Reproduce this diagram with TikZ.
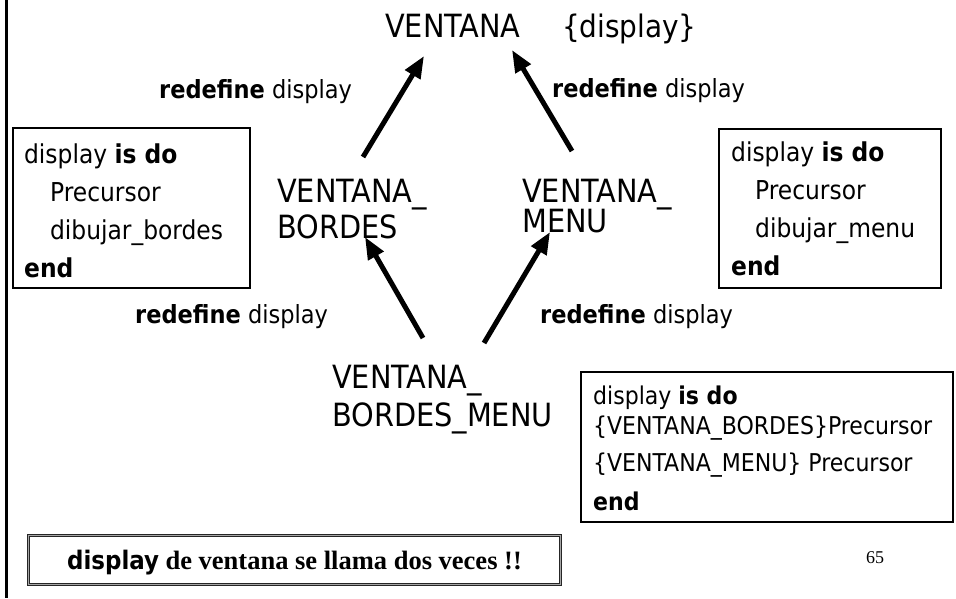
\documentclass[tikz,border=0pt]{standalone}
\usepackage{fontspec}
\setmainfont{DejaVu Sans Condensed}
\newfontfamily\romfont{Liberation Serif}
\usetikzlibrary{arrows.meta}

\tikzset{
  clsname/.style ={font=\fontsize{32}{36}\selectfont, align=left,
                   inner sep=0pt, anchor=base west},
  redef/.style   ={font=\fontsize{25}{30}\selectfont, inner sep=0pt,
                   anchor=base west},
  codebox/.style ={draw, line width=2.3pt, inner sep=0pt, anchor=north west},
  inh/.style     ={line width=5pt, -{Triangle[length=22pt,width=17pt]}},
  notebox/.style ={draw=black!85, line width=1pt, double=black!35,
                   double distance=1.5pt, inner sep=0pt, anchor=north west,
                   text height=19pt, text depth=0pt}
}
\newcommand{\redefine}{\textbf{redefine} display}

\begin{document}
\begin{tikzpicture}[x=1pt, y=-1pt]
  \useasboundingbox (0,0) rectangle (956,598);
  \draw[line width=3pt] (6,0) -- (6,598);

  % clases (base = ultima linea)
  \node[clsname] (vent) at (385,37) {VENTANA};
  \node[font=\fontsize{31}{36}\selectfont, inner sep=0pt, anchor=base west]
        (feat) at (562,37) {\{display\}};
  \node[clsname] (vb)  at (277,238) {VENTANA\_\\[0pt]BORDES};
  \node[clsname] (vm)  at (522,232) {VENTANA\_\\[-6pt]MENU};
  \node[clsname] (vbm) at (332,426) {VENTANA\_\\[2pt]BORDES\_MENU};

  % etiquetas
  \node[redef] (r1) at (159,98)  {\redefine};
  \node[redef] (r2) at (552,97)  {\redefine};
  \node[redef] (r3) at (135,323) {\redefine};
  \node[redef] (r4) at (540,323) {\redefine};

  % codigo
  \node[codebox] (cb) at (12,127) {\parbox[c][160pt][t]{237pt}{%
      \fontsize{26}{38}\selectfont
      \hspace*{11pt}\rule{0pt}{35pt}display \textbf{is do}\\
      \hspace*{37pt}Precursor\\
      \hspace*{37pt}dibujar\_bordes\\
      \hspace*{11pt}\textbf{end}}};
  \node[codebox] (cm) at (718,128) {\parbox[c][159pt][t]{222pt}{%
      \fontsize{26}{38}\selectfont
      \hspace*{12pt}\rule{0pt}{32pt}display \textbf{is do}\\
      \hspace*{36pt}Precursor\\
      \hspace*{36pt}dibujar\_menu\\
      \hspace*{12pt}\textbf{end}}};
  \node[codebox] (cbm) at (580,371) {\parbox[c][150pt][t]{372pt}{%
      \fontsize{24.5}{38}\selectfont
      \hspace*{12pt}\rule{0pt}{32pt}display \textbf{is do}\\[-8pt]
      \hspace*{12pt}\{VENTANA\_BORDES\}Precursor\\[-1pt]
      \hspace*{12pt}\{VENTANA\_MENU\} Precursor\\[1pt]
      \hspace*{12pt}\textbf{end}}};

  \node[notebox, minimum width=532pt, minimum height=49pt] (nota) at (28,535)
       {{\fontsize{25.5}{30}\selectfont\bfseries display}%
        {\romfont\fontsize{26.5}{30}\selectfont\bfseries\ de ventana se llama dos veces !!}};
  \node[font=\romfont\fontsize{18}{20}\selectfont, inner sep=0pt, anchor=base west]
       (pag) at (866,563) {65};

  % herencia
  \draw[inh] ([shift={(86,-81)}]vb.base west)   -- ([shift={(39,19)}]vent.base west);
  \draw[inh] ([shift={(50,-81)}]vm.base west)   -- ([shift={(127,13)}]vent.base west);
  \draw[inh] ([shift={(91,-88)}]vbm.base west)  -- ([shift={(88,-1)}]vb.base west);
  \draw[inh] ([shift={(152,-83)}]vbm.base west) -- ([shift={(28,0)}]vm.base west);
\end{tikzpicture}
\end{document}
